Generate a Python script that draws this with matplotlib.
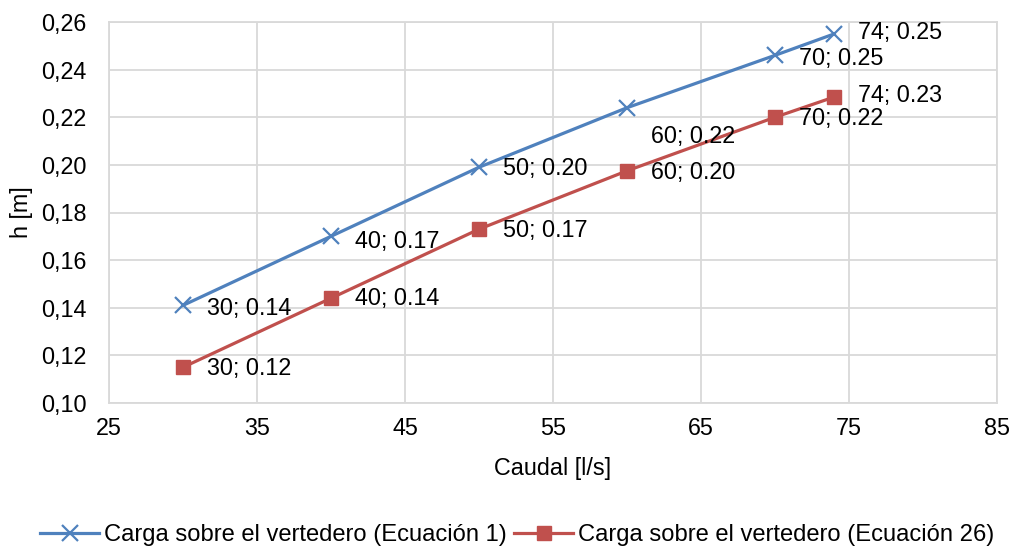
import matplotlib
matplotlib.use("Agg")
import matplotlib.pyplot as plt
from matplotlib.ticker import FuncFormatter, MultipleLocator

plt.rcParams['font.family'] = ['Liberation Sans', 'DejaVu Sans']

caudal = [30, 40, 50, 60, 70, 74]
h_ec1 = [0.141, 0.170, 0.199, 0.224, 0.246, 0.255]
h_ec26 = [0.115, 0.144, 0.173, 0.1975, 0.220, 0.2285]
labels_ec1 = ["30; 0.14", "40; 0.17", "50; 0.20", "60; 0.22", "70; 0.25", "74; 0.25"]
labels_ec26 = ["30; 0.12", "40; 0.14", "50; 0.17", "60; 0.20", "70; 0.22", "74; 0.23"]
x_ticks = [25, 35, 45, 55, 65, 75, 85]
name_ec1 = "Carga sobre el vertedero (Ecuación 1)"
name_ec26 = "Carga sobre el vertedero (Ecuación 26)"

blue = "#4F81BD"
red = "#C0504D"
grid_c = "#D9D9D9"
fs = 16.8

fig = plt.figure(figsize=(10.14, 5.46), dpi=100)
ax = fig.add_axes([109/1014, 1 - 403/546, (997-109)/1014, (403-22)/546])

ax.plot(caudal, h_ec1, color=blue, lw=2.3, marker='x', markersize=11,
        markeredgewidth=1.6, label=name_ec1, zorder=3)
ax.plot(caudal, h_ec26, color=red, lw=2.3, marker='s', markersize=9.5,
        label=name_ec26, zorder=3)

off1 = [(17, -2), (17, -4), (17, -1), (17, -21), (17, -2), (17, 1)]
off26 = [(17, -1), (17, 0), (17, -1), (17, -1), (17, -1), (17, 1)]
for x, y, t, o in zip(caudal, h_ec1, labels_ec1, off1):
    ax.annotate(t, (x, y), xytext=o, textcoords='offset points',
                ha='left', va='center', fontsize=fs, color='#000000')
for x, y, t, o in zip(caudal, h_ec26, labels_ec26, off26):
    ax.annotate(t, (x, y), xytext=o, textcoords='offset points',
                ha='left', va='center', fontsize=fs, color='#000000')

ax.set_xlim(25, 85)
ax.set_ylim(0.10, 0.26)
ax.set_xticks(x_ticks)
ax.yaxis.set_major_locator(MultipleLocator(0.02))
ax.yaxis.set_major_formatter(FuncFormatter(lambda v, p: f"{v:.2f}".replace('.', ',')))
ax.grid(True, color=grid_c, lw=1.3)
ax.set_axisbelow(True)
for s in ax.spines.values():
    s.set_color(grid_c)
    s.set_linewidth(1.3)
ax.tick_params(axis='y', length=0, labelsize=fs, pad=16, colors='#000000')
ax.tick_params(axis='x', length=0, labelsize=fs, pad=10, colors='#000000')
ax.set_xlabel("Caudal [l/s]", fontsize=fs, labelpad=12)
ax.set_ylabel("h [m]", fontsize=fs, labelpad=6)

fig.legend(loc='center', bbox_to_anchor=(0.51, 1 - 535/546), ncol=2, frameon=False,
           fontsize=17.1, handlelength=2.5, columnspacing=0.3, handletextpad=0.2,
           borderaxespad=0.0, borderpad=0.0)

fig.savefig("out.png", dpi=100)
